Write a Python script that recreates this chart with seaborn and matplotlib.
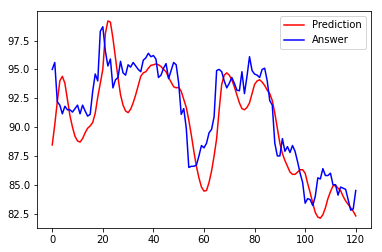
import numpy as np
import pandas as pd
import matplotlib
matplotlib.use("Agg")
import matplotlib.pyplot as plt
import seaborn as sns

prediction = [
    88.45, 90.2, 92.2, 94.0, 94.4, 93.8, 92.4, 91.0, 90.0, 89.2,
    88.8, 88.7, 89.0, 89.5, 89.9, 90.1, 90.4, 91.2, 92.6, 93.8,
    95.0, 98.1, 99.2, 99.1, 97.7, 96.0, 94.3, 92.8, 91.9, 91.4,
    91.25, 91.55, 92.1, 92.8, 93.6, 94.4, 94.7, 94.8, 95.1, 95.35,
    95.4, 95.47, 95.4, 95.25, 95.0, 94.8, 94.3, 93.9, 93.5, 93.4,
    93.45, 93.1, 92.4, 91.7, 90.6, 89.3, 87.9, 86.6, 85.6, 84.8,
    84.45, 84.5, 85.2, 86.2, 87.5, 89.0, 91.5, 93.7, 94.5, 94.7,
    94.5, 94.1, 93.5, 92.8, 92.1, 91.6, 91.5, 91.7, 92.1, 92.9,
    93.7, 94.0, 94.1, 93.9, 93.6, 93.2, 92.9, 92.3, 91.2, 89.9,
    88.6, 87.7, 87.1, 86.6, 86.1, 85.9, 85.9, 86.1, 86.3, 86.3,
    86.0, 85.1, 84.3, 83.4, 82.6, 82.2, 82.1, 82.4, 83.0, 83.8,
    84.4, 84.9, 84.95, 84.7, 84.5, 84.0, 83.6, 83.3, 83.0, 82.7,
    82.3,
]

answer = [
    95.0, 95.6, 92.2, 91.9, 91.15, 91.8, 91.5, 91.5, 91.3, 91.6,
    91.9, 91.15, 91.9, 91.4, 90.95, 91.1, 93.1, 94.6, 94.0, 98.3,
    98.7, 96.6, 95.3, 95.9, 93.4, 94.1, 94.3, 95.7, 94.7, 94.5,
    95.4, 95.2, 95.6, 95.3, 95.0, 94.8, 95.8, 96.0, 96.4, 96.1,
    96.2, 95.9, 94.3, 94.5, 95.1, 95.5, 94.2, 94.9, 95.6, 95.4,
    93.8, 91.1, 91.6, 89.9, 86.5, 86.6, 86.6, 86.7, 87.5, 88.4,
    88.2, 88.6, 89.5, 89.8, 90.9, 94.9, 95.0, 94.8, 94.0, 93.4,
    93.8, 94.3, 93.8, 93.2, 93.15, 94.8, 92.9, 94.4, 96.1, 94.9,
    94.6, 94.5, 94.3, 95.0, 95.1, 94.0, 92.3, 91.9, 88.6, 87.5,
    87.5, 89.0, 87.9, 88.3, 87.8, 88.4, 87.9, 87.0, 86.0, 85.2,
    83.4, 83.8, 83.7, 83.2, 84.0, 85.6, 85.5, 86.4, 85.8, 85.8,
    86.0, 85.0, 85.0, 84.1, 84.8, 84.7, 84.6, 83.7, 82.8, 82.9,
    84.5,
]

steps = np.arange(len(prediction))
df = pd.DataFrame({
    "step": np.concatenate([steps, steps]),
    "value": prediction + answer,
    "series": ["Prediction"] * len(prediction) + ["Answer"] * len(answer),
})

plt.rcParams["font.family"] = ["DejaVu Sans"]
fig = plt.figure(figsize=(382 / 72, 252 / 72), dpi=72)
ax = fig.add_axes([0.097, 0.095, 0.874, 0.861])
sns.lineplot(data=df, x="step", y="value", hue="series",
             palette={"Prediction": "red", "Answer": "blue"},
             linewidth=1.5, ax=ax)
ax.set_xlabel("")
ax.set_ylabel("")
ax.set_xticks([0, 20, 40, 60, 80, 100, 120])
ax.set_yticks([82.5, 85.0, 87.5, 90.0, 92.5, 95.0, 97.5])
ax.tick_params(labelsize=10)
ax.legend(loc="upper right", fontsize=10)
fig.savefig("out.png", dpi=72)
